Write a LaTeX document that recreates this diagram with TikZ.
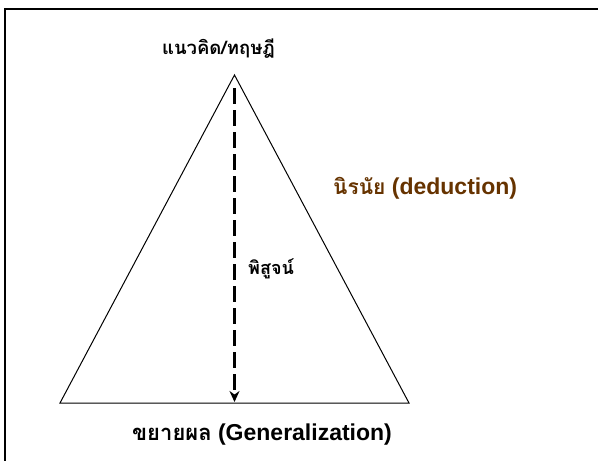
\documentclass[tikz,border=0pt]{standalone}
\usepackage{fontspec}
\setmainfont{Liberation Sans}
\newfontfamily\thaifont[Script=Thai]{Loma}
\usetikzlibrary{positioning, arrows.meta}
\definecolor{dedbrown}{RGB}{102,51,0}

\begin{document}
\begin{tikzpicture}[
        x=1pt, y=-1pt,
        >={Stealth[length=11pt, width=10pt]},
        lbl/.style={inner sep=0pt, anchor=west, font=\fontsize{23}{26}\selectfont\bfseries},
        thaitop/.style={inner sep=0pt, font=\fontsize{18.5}{20}\selectfont\bfseries\thaifont},
        small/.style={inner sep=0pt, anchor=west, font=\fontsize{18}{20}\selectfont\bfseries\thaifont},
        frame/.style={line width=2.2pt},
        tri/.style={line width=1pt},
        proof/.style={->, line width=2.6pt, dash pattern=on 16pt off 6pt},
    ]
        \useasboundingbox (0,0) rectangle (598,461);

        % outer frame, cut by the page
        \draw[frame] (5,470) -- (5,9) -- (610,9);

        % triangle corners
        \coordinate (apex) at (234.5,75);
        \coordinate (bl)   at (60,403);
        \coordinate (br)   at (409,403);
        \coordinate (top)  at (234.5,88);
        \coordinate (bot)  at (234.5,402);
        \draw[tri] (bl) -- (apex) -- (br) -- cycle;

        % dashed proof arrow
        \draw[proof] (top) -- (bot);

        % labels
        \node[thaitop] (theory) at (218.5,49) {แนวคิด/ทฤษฎี};
        \node[lbl, text=dedbrown] (deduce) at (333,188)
            {{\thaifont\fontsize{21}{24}\selectfont นิรนัย} (deduction)};
        \node[small] (prove) at (248,269) {พิสูจน์};
        \node[lbl] (general) at (132,435)
            {{\thaifont\fontsize{22}{24}\selectfont ขยายผล} (Generalization)};
    \end{tikzpicture}
\end{document}
